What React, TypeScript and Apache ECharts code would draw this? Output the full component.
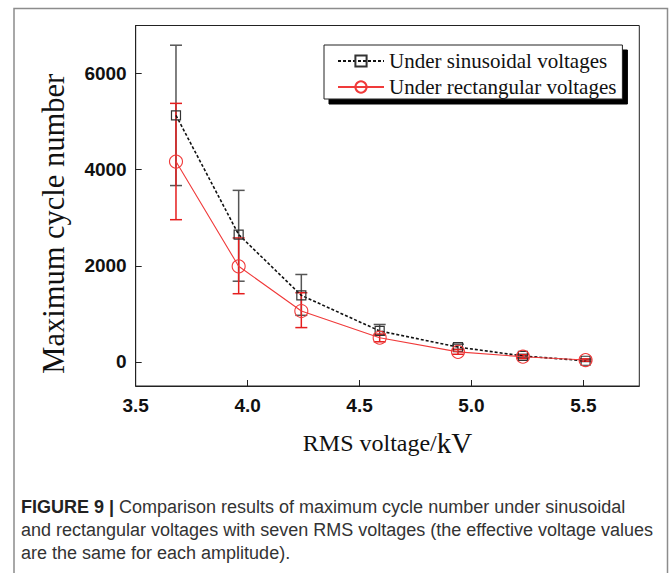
import React, { useEffect, useRef } from "react";
import * as echarts from "echarts";

const voltages = [3.68, 3.96, 4.24, 4.59, 4.94, 5.23, 5.51];
const sinMean = [5130, 2650, 1385, 645, 310, 125, 25];
const sinHigh = [6590, 3570, 1820, 780, 370, 160, 45];
const sinLow = [3670, 1680, 970, 560, 260, 90, 10];
const rectMean = [4170, 1990, 1060, 505, 210, 110, 40];
const rectHigh = [5380, 2580, 1440, 580, 260, 150, 65];
const rectLow = [2960, 1420, 715, 420, 160, 70, 15];
const xTicks = [3.5, 4.0, 4.5, 5.0, 5.5];
const yTicks = [0, 2000, 4000, 6000];
const seriesNames = ["Under sinusoidal voltages", "Under rectangular voltages"];
const captionLines = [
  "{b|FIGURE 9 |} Comparison results of maximum cycle number under sinusoidal",
  "and rectangular voltages with seven RMS voltages (the effective voltage values",
  "are the same for each amplitude).",
];

function errorRender(color: string) {
  return (params: any, api: any) => {
    const x = api.value(0);
    const lo = api.value(1);
    const hi = api.value(2);
    const pHi = api.coord([x, hi]);
    const pLo = api.coord([x, lo]);
    const w = 6;
    const style = { stroke: color, lineWidth: 1.5 };
    return {
      type: "group",
      children: [
        { type: "line", shape: { x1: pHi[0], y1: pHi[1], x2: pLo[0], y2: pLo[1] }, style },
        { type: "line", shape: { x1: pHi[0] - w, y1: pHi[1], x2: pHi[0] + w, y2: pHi[1] }, style },
        { type: "line", shape: { x1: pLo[0] - w, y1: pLo[1], x2: pLo[0] + w, y2: pLo[1] }, style },
      ],
    };
  };
}

export default function App() {
  const ref = useRef<HTMLDivElement>(null);
  useEffect(() => {
    if (!ref.current) return;
    const chart = echarts.init(ref.current, null, { renderer: "svg" });
    const capFont = "Liberation Sans";
    chart.setOption({
      animation: false,
      backgroundColor: "#fff",
      grid: {
        left: 135.7,
        top: 25.5,
        right: 30.7,
        bottom: 187,
        show: true,
        borderColor: "#222",
        borderWidth: 1,
        backgroundColor: "transparent",
      },
      legend: {
        orient: "vertical",
        left: 324,
        top: 45,
        align: "left",
        itemWidth: 46,
        itemHeight: 14,
        itemGap: 4,
        padding: [5, 6, 1, 13],
        backgroundColor: "#fff",
        borderColor: "#222",
        borderWidth: 1,
        shadowColor: "#000",
        shadowOffsetX: 5,
        shadowOffsetY: 5,
        shadowBlur: 0,
        textStyle: {
          fontFamily: "Liberation Serif",
          fontSize: 21,
          color: "#111",
          lineHeight: 22,
        },
        data: seriesNames,
      },
      xAxis: {
        type: "value",
        min: 3.5,
        max: 5.75,
        name: "{a|RMS voltage/}{b|kV}",
        nameLocation: "middle",
        nameGap: 42,
        nameTextStyle: {
          rich: {
            a: { fontFamily: "Liberation Serif", fontSize: 24, color: "#111" },
            b: { fontFamily: "Liberation Serif", fontSize: 29, color: "#111" },
          },
        },
        axisLine: { onZero: false, lineStyle: { color: "#222", width: 1 } },
        axisTick: { inside: true, length: 6, customValues: xTicks, lineStyle: { color: "#222" } },
        axisLabel: {
          customValues: xTicks,
          formatter: (v: number) => v.toFixed(1),
          fontFamily: "Liberation Sans",
          fontWeight: "bold",
          fontSize: 19,
          color: "#111",
          margin: 10,
        },
        splitLine: { show: false },
      },
      yAxis: {
        type: "value",
        min: -500,
        max: 7000,
        name: "Maximum cycle number",
        nameLocation: "middle",
        nameGap: 66,
        nameTextStyle: {
          fontFamily: "Liberation Serif",
          fontSize: 30.5,
          color: "#111",
          padding: [0, 36, 0, 0],
        },
        axisLine: { show: true, onZero: false, lineStyle: { color: "#222", width: 1 } },
        axisTick: { show: true, inside: true, length: 6, customValues: yTicks, lineStyle: { color: "#222" } },
        axisLabel: {
          customValues: yTicks,
          formatter: (v: number) => String(v),
          fontFamily: "Liberation Sans",
          fontWeight: "bold",
          fontSize: 19,
          color: "#111",
          margin: 9,
        },
        splitLine: { show: false },
      },
      series: [
        {
          type: "custom",
          name: "sinErr",
          renderItem: errorRender("#555"),
          data: voltages.map((x, i) => [x, sinLow[i], sinHigh[i]]),
          encode: { x: 0, y: [1, 2] },
          z: 1,
          silent: true,
        },
        {
          type: "custom",
          name: "rectErr",
          renderItem: errorRender("#e51e1e"),
          data: voltages.map((x, i) => [x, rectLow[i], rectHigh[i]]),
          encode: { x: 0, y: [1, 2] },
          z: 2,
          silent: true,
        },
        {
          type: "line",
          name: seriesNames[0],
          data: voltages.map((x, i) => [x, sinMean[i]]),
          symbol: "rect",
          symbolSize: 9,
          showAllSymbol: true,
          lineStyle: { color: "#111", width: 1.6, type: [3, 2] },
          itemStyle: { color: "rgba(255,255,255,0)", borderColor: "#333", borderWidth: 1.2 },
          z: 3,
        },
        {
          type: "line",
          name: seriesNames[1],
          data: voltages.map((x, i) => [x, rectMean[i]]),
          symbol: "circle",
          symbolSize: 13,
          showAllSymbol: true,
          lineStyle: { color: "#f03a3a", width: 1.1 },
          itemStyle: { color: "rgba(255,255,255,0)", borderColor: "#f03a3a", borderWidth: 1.1 },
          z: 4,
        },
      ],
      graphic: [
        {
          type: "polyline",
          shape: { points: [[14, 573], [14, 8.5], [667.5, 8.5], [667.5, 573]] },
          style: { stroke: "#8c8c8c", lineWidth: 1.5, fill: "none" },
          silent: true,
        },
        ...captionLines.map((t, i) => ({
          type: "text",
          x: 21,
          y: 507 + i * 23,
          style: {
            text: t,
            font: `18px "${capFont}"`,
            fill: "#333",
            verticalAlign: "middle",
            rich: {
              b: { fontFamily: capFont, fontSize: 18, fontWeight: "bold", fill: "#222" },
            },
          },
          silent: true,
        })),
      ],
    });
    return () => chart.dispose();
  }, []);
  return (
    <div
      ref={ref}
      style={{ position: "absolute", left: 0, top: 0, width: 670, height: 573 }}
    />
  );
}
